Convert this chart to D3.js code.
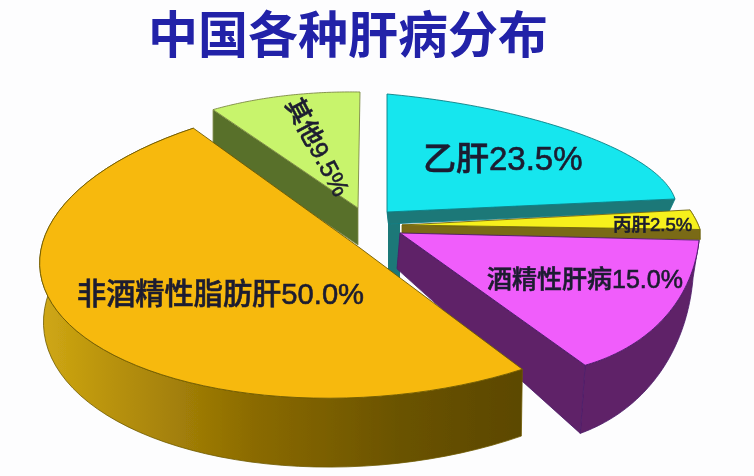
<!DOCTYPE html>
<html><head><meta charset="utf-8">
<script src="https://cdn.jsdelivr.net/npm/d3@7/dist/d3.min.js"></script>
<style>html,body{margin:0;padding:0;background:#fdfdfe;overflow:hidden}</style></head>
<body><svg id="c" width="754" height="476"></svg>
<script>
const chartTitle = "中国各种肝病分布";
const categories = ["乙肝","丙肝","酒精性肝病","非酒精性脂肪肝","其他"];
const values = [23.5,2.5,15.0,50.0,9.5];
const valueLabels = ["23.5%","2.5%","15.0%","50.0%","9.5%"];

// projected 3-D layout of each exploded slice (same order as categories)
const layout = [
 {apex:[387,212],c:[387,181.6],u:[289.5,26.4],v:[0,87.6],top:"#14e6ee",edge:"#0e7f85",wall:"#1f7878",depth:y=>12,radial:"end",arc:false,vx:450,k:.975,sh:0},
 {apex:[402,225],c:[407.3,197.7],u:[290,25],v:[58,125],top:"#f6f01c",edge:"#6f6410",wall:"#7a6a12",depth:y=>10,radial:"end",arc:true,vx:450,k:1,sh:0},
 {apex:[400,233],c:[459.8,175.8],u:[240,54],v:[-7,191],top:"#f05dfb",edge:"#4d1a6a",wall:"#5e2468",depth:y=>-21+.244*y,radial:"end",arc:true,vx:400,k:.99,sh:-3},
 {apex:[360,248],c:[360,248],u:[320,-8],v:[-15,150],top:"#f7b90f",edge:"#6f5a00",wall:"url(#orangeWall)",depth:y=>41+.07*y,radial:null,arc:true,vx:520,k:.99,sh:-1},
 {apex:[358,208],c:[358,208],u:[262,4],v:[-2,116],top:"#c8f46c",edge:"#7d8a45",wall:"#58702c",depth:y=>37,radial:"start",arc:false,vx:450,k:1,sh:0}
];
const drawOrder = [4,0,1,2,3];
const labelLayout = [
 {x:423,y:170,size:33,rot:0},
 {x:613,y:231,size:18.5,rot:0},
 {x:487,y:288,size:25,rot:0},
 {x:77,y:304,size:29.2,rot:0},
 {x:285,y:104,size:25,rot:62}
];
const font = '"Liberation Sans","Noto Sans CJK SC",sans-serif';

const svg = d3.select("#c");
const defs = svg.append("defs");
const grad = defs.append("linearGradient").attr("id","orangeWall")
  .attr("gradientUnits","userSpaceOnUse").attr("x1",40).attr("x2",520).attr("y1",0).attr("y2",0);
[[0,"#d0a814"],[.15,"#b8920c"],[.45,"#8a6a02"],[.75,"#6a5300"],[1,"#5c4800"]]
  .forEach(s=>grad.append("stop").attr("offset",s[0]).attr("stop-color",s[1]));
const soft = defs.append("filter").attr("id","soft").attr("x","-5%").attr("y","-5%").attr("width","110%").attr("height","110%");
soft.append("feGaussianBlur").attr("stdDeviation",.55);

const arcs = d3.pie().sort(null).value(d=>d)(values);
const line = d3.line();
const rim = (g,t)=>[g.c[0]+g.u[0]*Math.sin(t)-g.v[0]*Math.cos(t), g.c[1]+g.u[1]*Math.sin(t)-g.v[1]*Math.cos(t)];
const down = (g,p)=>[p[0]+g.sh+(g.vx-p[0])*(1-g.k), p[1]+g.depth(p[1])];
const sample = (a)=>d3.range(0,61).map(i=>a.startAngle+(a.endAngle-a.startAngle)*i/60);

const root = svg.append("g").attr("filter","url(#soft)");
const wallG = root.append("g");

drawOrder.forEach(i=>{
  const g = layout[i], a = arcs[i];
  const pts = sample(a).map(t=>rim(g,t));
  const gs = wallG.append("g");
  if(i===0){
    gs.append("path").attr("d",line([g.apex,[g.apex[0]+13,g.apex[1]],[g.apex[0]+13,g.apex[1]+75],[g.apex[0]+1,g.apex[1]+75],[g.apex[0]+1,g.apex[1]+12]]))
      .attr("fill",g.wall);
  }
  if(g.arc){
    const bot = pts.map(p=>down(g,p)).reverse();
    gs.append("path").attr("d",line(pts.concat(bot))+"Z").attr("fill",g.wall).attr("stroke",g.edge).attr("stroke-width",.8);
  }
  if(g.radial){
    const end = g.radial==="end"?pts[pts.length-1]:pts[0];
    const q=[g.apex,end,down(g,end),down(g,g.apex)];
    gs.append("path").attr("d",line(q)+"Z").attr("fill",g.wall).attr("stroke",g.edge).attr("stroke-width",.8);
  }
  gs.append("path").attr("d",line([g.apex].concat(pts))+"Z").attr("fill",g.top).attr("stroke",g.edge).attr("stroke-width",.9);
});

root.append("text").attr("x",348).attr("y",53).attr("text-anchor","middle")
  .attr("font-family",font).attr("font-size",50).attr("font-weight",700).attr("fill","#2020a8").text(chartTitle);

categories.forEach((c,i)=>{
  const l = labelLayout[i];
  root.append("text").attr("transform",`translate(${l.x},${l.y}) rotate(${l.rot})`)
    .attr("font-family",font).attr("font-size",l.size).attr("font-weight",500).attr("fill","#1c1c30")
    .attr("stroke","#1c1c30").attr("stroke-width",.6)
    .text(c+valueLabels[i]);
});
</script></body></html>
